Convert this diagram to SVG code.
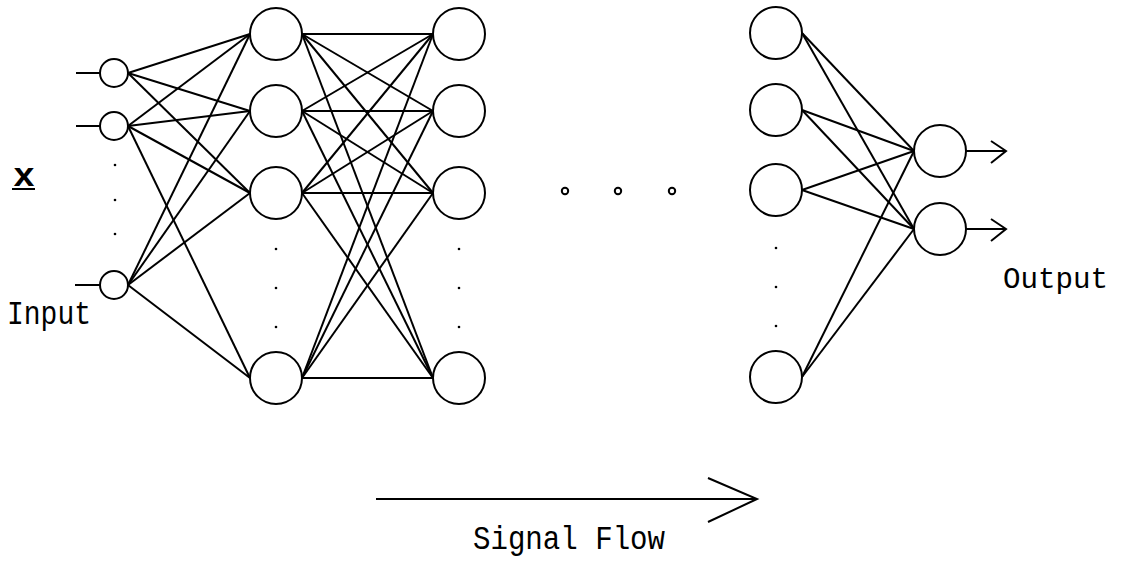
<svg xmlns="http://www.w3.org/2000/svg" width="1122" height="568" viewBox="0 0 1122 568">
<style>
.n{fill:#fff;stroke:#000;stroke-width:2}
.e line,.e polyline,.e path{stroke:#000;stroke-width:2;fill:none}
.d{fill:#000}
.t{font-family:"Liberation Mono",monospace;font-size:34px;fill:#000}
</style>
<rect width="1122" height="568" fill="#fff"/>
<g id="connectors" class="e">
<!-- input stubs -->
<line x1="76" y1="73" x2="100" y2="73"/>
<line x1="76" y1="126" x2="100" y2="126"/>
<line x1="75" y1="285" x2="100" y2="285"/>
<!-- input to hidden 1 -->
<line x1="128" y1="73" x2="250" y2="34"/>
<line x1="128" y1="73" x2="250" y2="111"/>
<line x1="128" y1="73" x2="250" y2="193"/>
<line x1="128" y1="126" x2="250" y2="34"/>
<line x1="128" y1="126" x2="250" y2="111"/>
<line x1="128" y1="126" x2="250" y2="193"/>
<line x1="128" y1="126" x2="250" y2="378"/>
<line x1="128" y1="285" x2="250" y2="34"/>
<line x1="128" y1="285" x2="250" y2="111"/>
<line x1="128" y1="285" x2="250" y2="193"/>
<line x1="128" y1="285" x2="250" y2="378"/>
<!-- hidden 1 to hidden 2 -->
<line x1="302" y1="34" x2="433" y2="34"/>
<line x1="302" y1="34" x2="433" y2="111"/>
<line x1="302" y1="34" x2="433" y2="193"/>
<line x1="302" y1="34" x2="433" y2="378"/>
<line x1="302" y1="111" x2="433" y2="34"/>
<line x1="302" y1="111" x2="433" y2="111"/>
<line x1="302" y1="111" x2="433" y2="193"/>
<line x1="302" y1="111" x2="433" y2="378"/>
<line x1="302" y1="193" x2="433" y2="34"/>
<line x1="302" y1="193" x2="433" y2="111"/>
<line x1="302" y1="193" x2="433" y2="193"/>
<line x1="302" y1="193" x2="433" y2="378"/>
<line x1="302" y1="378" x2="433" y2="34"/>
<line x1="302" y1="378" x2="433" y2="111"/>
<line x1="302" y1="378" x2="433" y2="193"/>
<line x1="302" y1="378" x2="433" y2="378"/>
<!-- last hidden to output -->
<line x1="802" y1="33" x2="914" y2="151"/>
<line x1="802" y1="33" x2="914" y2="229"/>
<line x1="802" y1="110" x2="914" y2="151"/>
<line x1="802" y1="110" x2="914" y2="229"/>
<line x1="802" y1="190" x2="914" y2="151"/>
<line x1="802" y1="190" x2="914" y2="229"/>
<line x1="802" y1="377" x2="914" y2="151"/>
<line x1="802" y1="377" x2="914" y2="229"/>
<!-- output arrows -->
<line x1="966" y1="151" x2="1006" y2="151"/>
<polyline points="991,141 1006,151 991,163"/>
<line x1="966" y1="229" x2="1006" y2="229"/>
<polyline points="991,219 1006,229 991,241"/>
<!-- signal flow arrow -->
<line x1="376" y1="499" x2="757" y2="499"/>
<polyline points="708,478 757,499 708,522"/>
</g>
<g id="input-layer">
<circle id="in1" class="n" cx="114" cy="73" r="14"/>
<circle id="in2" class="n" cx="114" cy="126" r="14"/>
<circle id="in3" class="n" cx="114" cy="285" r="14"/>
<circle class="d" cx="115" cy="165" r="1.3"/>
<circle class="d" cx="115" cy="200" r="1.3"/>
<circle class="d" cx="115" cy="234" r="1.3"/>
</g>
<g id="hidden1">
<circle class="n" cx="276" cy="34" r="26"/>
<circle class="n" cx="276" cy="111" r="26"/>
<circle class="n" cx="276" cy="193" r="26"/>
<circle class="n" cx="276" cy="378" r="26"/>
<circle class="d" cx="276" cy="249" r="1.3"/>
<circle class="d" cx="276" cy="288" r="1.3"/>
<circle class="d" cx="276" cy="327" r="1.3"/>
</g>
<g id="hidden2">
<circle class="n" cx="459" cy="34" r="26"/>
<circle class="n" cx="459" cy="111" r="26"/>
<circle class="n" cx="459" cy="193" r="26"/>
<circle class="n" cx="459" cy="378" r="26"/>
<circle class="d" cx="459" cy="249" r="1.3"/>
<circle class="d" cx="459" cy="288" r="1.3"/>
<circle class="d" cx="459" cy="327" r="1.3"/>
</g>
<g id="ellipsis">
<circle cx="565" cy="191" r="3.2" fill="none" stroke="#000" stroke-width="2"/>
<circle cx="618" cy="191" r="3.2" fill="none" stroke="#000" stroke-width="2"/>
<circle cx="672" cy="191" r="3.2" fill="none" stroke="#000" stroke-width="2"/>
</g>
<g id="hiddenN">
<circle class="n" cx="776" cy="33" r="26"/>
<circle class="n" cx="776" cy="110" r="26"/>
<circle class="n" cx="776" cy="190" r="26"/>
<circle class="n" cx="776" cy="377" r="26"/>
<circle class="d" cx="776" cy="248" r="1.3"/>
<circle class="d" cx="776" cy="287" r="1.3"/>
<circle class="d" cx="776" cy="326" r="1.3"/>
</g>
<g id="output-layer">
<circle class="n" cx="940" cy="151" r="26"/>
<circle class="n" cx="940" cy="229" r="26"/>
</g>
<g id="labels">
<text class="t" x="13" y="186" font-weight="bold" textLength="22" lengthAdjust="spacingAndGlyphs">x</text>
<line x1="12" y1="189" x2="35" y2="189" stroke="#000" stroke-width="2"/>
<text class="t" x="7" y="324" textLength="84" lengthAdjust="spacingAndGlyphs">Input</text>
<text class="t" x="1003" y="288" font-size="29" style="font-size:29px" textLength="105" lengthAdjust="spacingAndGlyphs">Output</text>
<text class="t" x="473" y="549" textLength="192" lengthAdjust="spacingAndGlyphs">Signal Flow</text>
</g>
</svg>
